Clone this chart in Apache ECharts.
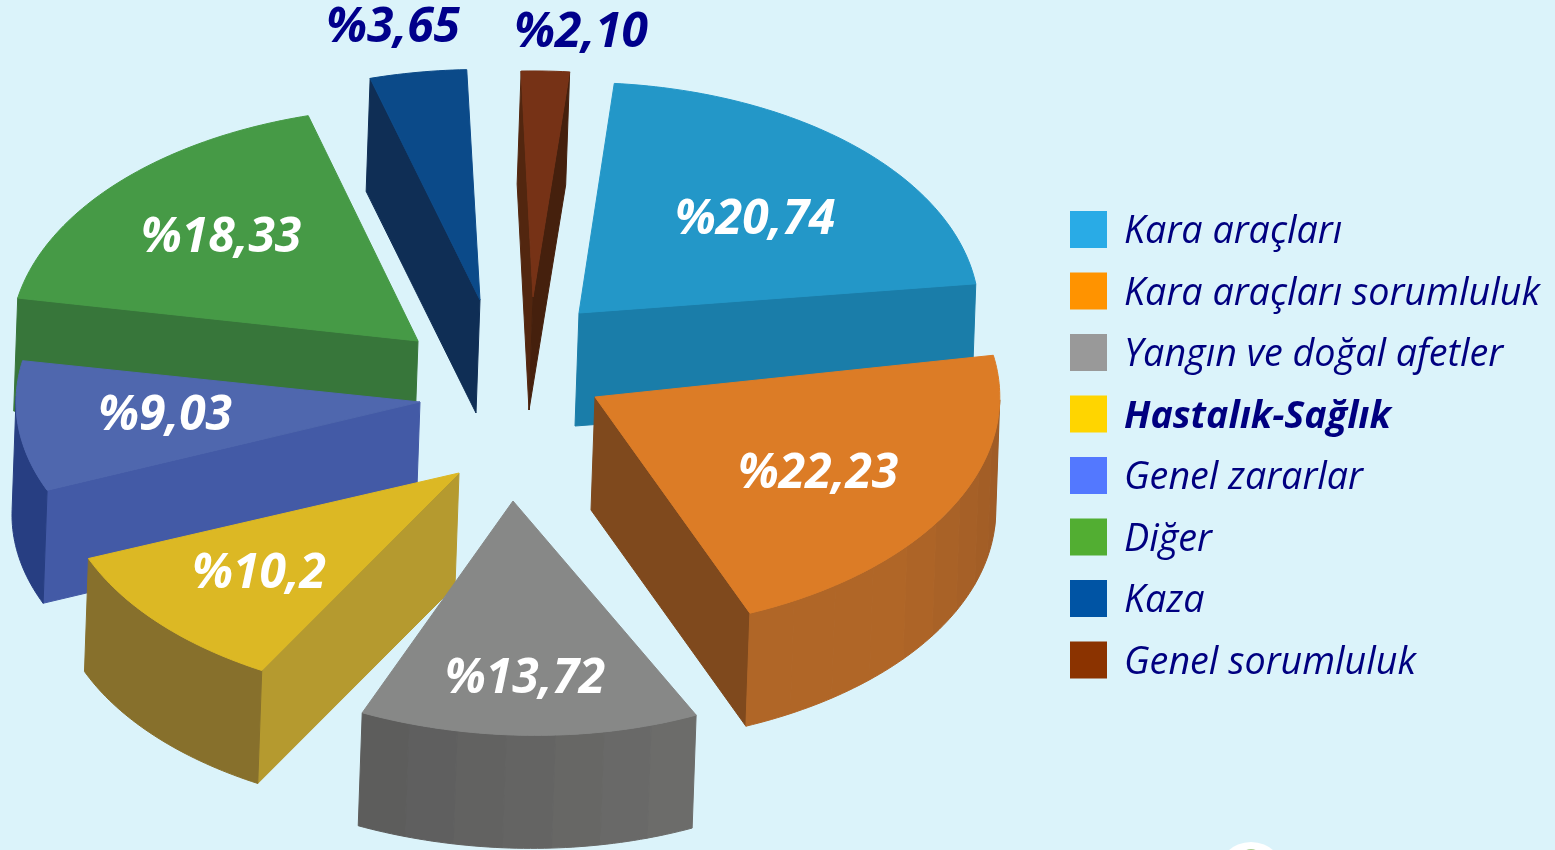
<!DOCTYPE html>
<html lang="tr">
<head>
<meta charset="utf-8">
<title>Hasar dağılımı</title>
<script src="https://cdn.jsdelivr.net/npm/echarts@6/dist/echarts.min.js"></script>
<style>
  html, body { margin: 0; height: 100%; background: #dbf3fa; }
  #chart { width: 1555px; height: 850px; }
</style>
</head>
<body>
<div id="chart"></div>
<script>
  // data, clockwise from the brown slice at the top
  const categories = ['Genel sorumluluk', 'Kara araçları', 'Kara araçları sorumluluk', 'Yangın ve doğal afetler', 'Hastalık-Sağlık', 'Genel zararlar', 'Diğer', 'Kaza']
  const shares = [2.10, 20.74, 22.23, 13.72, 10.2, 9.03, 18.33, 3.65]
  const shareLabels = ['%2,10', '%20,74', '%22,23', '%13,72', '%10,2', '%9,03', '%18,33', '%3,65']
  const legendOrder = ['Kara araçları', 'Kara araçları sorumluluk', 'Yangın ve doğal afetler', 'Hastalık-Sağlık', 'Genel zararlar', 'Diğer', 'Kaza', 'Genel sorumluluk']

  // colours
  const legendColors = ['#8b3300', '#29abe6', '#ff9300', '#999999', '#ffd500', '#5378ff', '#52ae32', '#0054a4']
  const topColors = ['#763216', '#2397c8', '#dc7c26', '#878887', '#dcb824', '#4f67ae', '#469a46', '#0b4a89']
  const cutColors = [['#52260f', '#45200d'], ['#1a7da9', '#1a7da9'], ['#1a7da9', '#7f491d'], ['#6c6c6a', '#5b5b5b'], ['#b59a2f', '#87702c'], ['#435aa6', '#273e82'], ['#37763a', '#37763a'], ['#0f2e55', '#0f2e55']]
  const arcColors = [['#52260f', '#45200d'], ['#1a7da9', '#1a7da9'], ['#995826', '#b06627'], ['#6c6c6a', '#5a5a5a'], ['#87702c', '#87702c'], ['#273e82', '#273e82'], ['#37763a', '#37763a'], ['#0f2e55', '#0f2e55']]
  const arcFade = [0, 0, 7, 7, 0, 0, 0, 0]
  const labelColors = ['#00008b', '#fff', '#fff', '#fff', '#fff', '#fff', '#fff', '#00008b']

  // layout
  const center = [505, 370]
  const radiusX = 400
  const radiusY = 234
  const depth = [-4, 113]
  const startAngle = 92.5
  const facetDeg = 7
  const explode = [[28, -73], [74, -57], [90, 27], [8, 131], [-46, 103], [-85, 32], [-87, -29], [-25, -70]]
  // small per slice corrections for the picture's perspective
  const startTrim = [-0.8, 0, 0, 7, -0.4, -1.5, -2.2, 0.3]
  const endTrim = [-0.2, -3, 2.25, 7, -2, -2, 0, -0.6]
  const scaleX = [1, 1, 1.012, 1, 1, 1.01, 1.018, 1]
  const scaleY = [0.966, 0.985, 1, 1, 0.97, 0.98, 1, 0.985]
  const shearY = [0, 0, 0, 0.033, 0, 0, 0, 0]
  const labelPos = [[581, 33], [755, 220], [818, 474], [525, 679], [259, 574], [165, 416], [221, 238], [393, 28]]
  const drawOrder = [1, 2, 5, 8, 7, 6, 4, 3]

  function lerpColor(a, b, t) {
    const pa = echarts.color.parse(a)
    const pb = echarts.color.parse(b)
    return 'rgb(' + [0, 1, 2].map((i) => Math.round(pa[i] + (pb[i] - pa[i]) * t)).join(',') + ')'
  }

  function cross(u, v) {
    return u[0] * v[1] - u[1] * v[0]
  }

  function poly(points, color, z2) {
    return {
      type: 'polygon',
      z2: z2,
      shape: { points: points },
      style: { fill: color, stroke: color, lineWidth: 1 },
    }
  }

  function renderSlice(params, api) {
    const i = params.seriesIndex
    const value = api.value(0)
    const before = shares.slice(0, i).reduce((s, v) => s + v, 0)
    const a0 = startAngle - before * 3.6 + startTrim[i]
    const a1 = startAngle - (before + value) * 3.6 + endTrim[i]
    const apex = [center[0] + explode[i][0], center[1] + explode[i][1]]
    const rim = (deg) => {
      const a = deg * Math.PI / 180
      const dx = radiusX * scaleX[i] * Math.cos(a)
      return [apex[0] + dx, apex[1] - radiusY * scaleY[i] * Math.sin(a) + shearY[i] * dx]
    }
    const down = (p) => [p[0] + depth[0], p[1] + depth[1]]

    // top face outline
    const steps = Math.max(6, Math.round(a0 - a1))
    const arc = []
    for (let k = 0; k <= steps; k++) arc.push(a0 + (a1 - a0) * k / steps)
    const arcPts = arc.map(rim)
    const mid = rim((a0 + a1) / 2)
    const children = []

    // straight cut walls, only where they face the viewer
    const ends = [arcPts[0], arcPts[steps]]
    ends.forEach((p, side) => {
      const edge = [p[0] - apex[0], p[1] - apex[1]]
      const inner = cross(edge, [mid[0] - apex[0], mid[1] - apex[1]])
      if (inner * cross(edge, depth) < 0) {
        children.push(poly([apex, p, down(p), down(apex)], cutColors[i][side], 1))
      }
    })

    // outer wall: group the visible steps into facets, plain slices get one
    const facets = {}
    for (let k = 0; k < steps; k++) {
      const am = (arc[k] + arc[k + 1]) / 2 * Math.PI / 180
      const facing = (depth[0] * Math.cos(am)) / radiusX - (depth[1] * Math.sin(am)) / radiusY
      if (facing <= 0) continue
      const band = arcFade[i] ? Math.floor((a0 - arc[k]) / facetDeg) : 0
      if (!facets[band]) facets[band] = [arcPts[k]]
      facets[band].push(arcPts[k + 1])
    }
    Object.keys(facets).forEach((band) => {
      const rimPts = facets[band]
      const t = arcFade[i] ? Math.min(1, band / arcFade[i]) : 1
      children.push(poly(rimPts.concat(rimPts.map(down).reverse()), lerpColor(arcColors[i][0], arcColors[i][1], t), 2))
    })

    children.push(poly([apex].concat(arcPts), topColors[i], 3))
    children.push({
      type: 'text',
      z2: 4,
      style: {
        x: labelPos[i][0],
        y: labelPos[i][1],
        text: shareLabels[i],
        align: 'center',
        verticalAlign: 'middle',
        fill: labelColors[i],
        font: 'italic bold 48px "Open Sans"',
      },
    })
    return { type: 'group', children: children }
  }

  const legendText = {
    color: '#000080',
    fontFamily: 'Open Sans',
    fontStyle: 'italic',
    fontSize: 37.7,
    padding: [6, 0, 0, 12],
  }

  const chart = echarts.init(document.getElementById('chart'), null, { renderer: 'canvas' })

  chart.setOption({
    animation: false,
    backgroundColor: '#dbf3fa',
    legend: {
      left: 1070,
      top: 211,
      orient: 'vertical',
      icon: 'rect',
      itemWidth: 37,
      itemHeight: 37,
      itemGap: 21,
      selectedMode: false,
      padding: 0,
      formatter: (name) => (name === 'Hastalık-Sağlık' ? `{b|${name}}` : `{t|${name}}`),
      textStyle: {
        rich: {
          t: legendText,
          b: Object.assign({}, legendText, { fontWeight: 'bold' }),
        },
      },
      data: legendOrder.map((name) => ({
        name: name,
        itemStyle: { color: legendColors[categories.indexOf(name)] },
      })),
    },
    graphic: [
      { type: 'circle', shape: { cx: 1251, cy: 876, r: 34 }, style: { fill: '#fff' }, silent: true },
      { type: 'circle', shape: { cx: 1251, cy: 860, r: 11 }, style: { fill: '#a9ce8e' }, silent: true },
    ],
    series: categories.map((name, i) => ({
      type: 'custom',
      name: name,
      coordinateSystem: 'none',
      z: drawOrder[i] + 2,
      silent: true,
      itemStyle: { color: legendColors[i] },
      data: [[shares[i]]],
      renderItem: renderSlice,
    })),
  })

  window.addEventListener('resize', () => chart.resize())
</script>
</body>
</html>
